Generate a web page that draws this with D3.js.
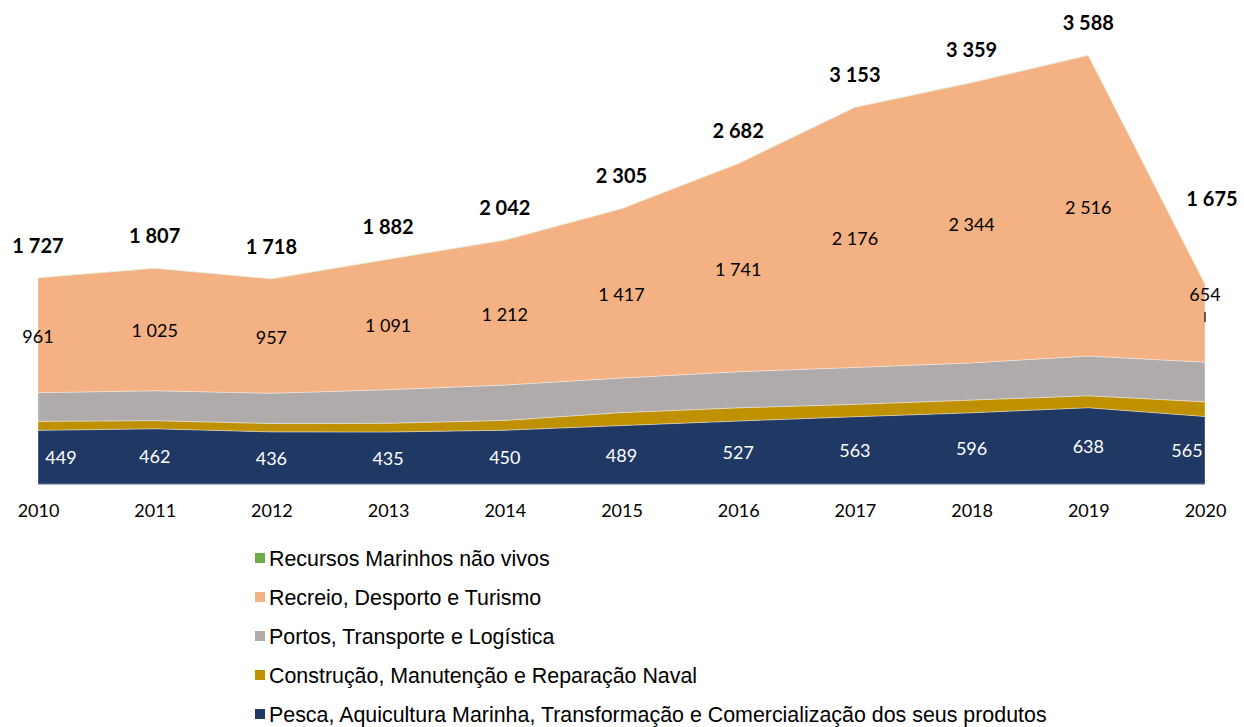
<!DOCTYPE html>
<html lang="pt">
<head>
<meta charset="UTF-8" />
<title>Economia do Mar</title>
<script src="https://cdn.jsdelivr.net/npm/d3@7"></script>
<style>
  body { margin: 0; background: #fff; }
</style>
</head>
<body>
<script>
// anos e séries
var years = ["2010","2011","2012","2013","2014","2015","2016","2017","2018","2019","2020"];
var pesca = [449, 462, 436, 435, 450, 489, 527, 563, 596, 638, 565];
var construcao = [75, 68, 70, 73, 82, 108, 110, 103, 106, 100, 122];
var portos = [240, 250, 253, 281, 296, 289, 302, 309, 311, 332, 332];
var recreio = [961, 1025, 957, 1091, 1212, 1417, 1741, 2176, 2344, 2516, 654];
var recursos = [2, 2, 2, 2, 2, 2, 2, 2, 2, 2, 2];

var seriesNames = [
  "Pesca, Aquicultura Marinha, Transformação e Comercialização dos seus produtos",
  "Construção, Manutenção e Reparação Naval",
  "Portos, Transporte e Logística",
  "Recreio, Desporto e Turismo",
  "Recursos Marinhos não vivos"
];
var colors = ["#203864", "#BF9000", "#AFABAB", "#F4B183", "#70AD47"];

var W = 1244, H = 727;
var numFont = "Lato, 'Open Sans', sans-serif";
var svg = d3.select("body").append("svg").attr("width", W).attr("height", H);

var rows = years.map(function (y, i) {
  return { year: y, s0: pesca[i], s1: construcao[i], s2: portos[i], s3: recreio[i], s4: recursos[i] };
});
var keys = ["s0", "s1", "s2", "s3", "s4"];
var stack = d3.stack().keys(keys)(rows);

var x = d3.scalePoint().domain(years).range([38, 1205]);
var y = d3.scaleLinear().domain([0, 4000]).range([484, 484 - 4000 * 0.11957]);

var area = d3.area()
  .x(function (d) { return x(d.data.year); })
  .y0(function (d) { return y(d[0]); })
  .y1(function (d) { return y(d[1]); });

svg.selectAll("path.layer")
  .data(stack)
  .enter()
  .append("path")
  .attr("class", "layer")
  .attr("d", area)
  .attr("fill", function (d, i) { return colors[i]; })
  .attr("stroke", "rgba(255,255,255,0.45)")
  .attr("stroke-width", 0.8);

// eixo
svg.append("line")
  .attr("x1", x(years[0])).attr("x2", x(years[years.length - 1]))
  .attr("y1", y(0) + 0.5).attr("y2", y(0) + 0.5)
  .attr("stroke", "#A3B0C6").attr("stroke-width", 1.2);

var xAxis = d3.axisBottom(x).tickSize(0).tickPadding(20);
var gx = svg.append("g").attr("transform", "translate(0," + y(0) + ")").call(xAxis);
gx.select(".domain").remove();
gx.selectAll("text").attr("font-size", 18).attr("fill", "#000")
  .attr("font-family", numFont);

var fmt = function (v) { return d3.format(",")(v).replace(/,/g, " "); };
var last = years.length - 1;

// rótulos da pesca
svg.selectAll("text.pesca")
  .data(stack[0])
  .enter()
  .append("text")
  .attr("class", "pesca")
  .attr("x", function (d, i) {
    var px = x(d.data.year);
    if (i === 0) return px + 23;
    if (i === last) return px - 18;
    return px;
  })
  .attr("y", function (d) { return (y(d[0]) + y(d[1])) / 2 + 7; })
  .attr("text-anchor", "middle")
  .attr("font-family", numFont)
  .attr("font-size", 18)
  .attr("fill", "#fff")
  .text(function (d) { return fmt(d[1] - d[0]); });

// rótulos do recreio
svg.selectAll("text.recreio")
  .data(stack[3])
  .enter()
  .append("text")
  .attr("class", "recreio")
  .attr("x", function (d) { return x(d.data.year); })
  .attr("y", function (d, i) {
    if (i === last) return y(d[1]) + 17;
    return (y(d[0]) + y(d[1])) / 2 + 8;
  })
  .attr("text-anchor", "middle")
  .attr("font-family", numFont)
  .attr("font-size", 18)
  .attr("fill", "#000")
  .text(function (d) { return fmt(d[1] - d[0]); });

// linha de chamada do último rótulo
var lastTop = stack[3][last];
svg.append("line")
  .attr("x1", x(years[last])).attr("x2", x(years[last]))
  .attr("y1", y(lastTop[1]) + 28).attr("y2", y(lastTop[1]) + 38)
  .attr("stroke", "#000").attr("stroke-width", 1.2);

// totais
var totals = rows.map(function (r) { return r.s0 + r.s1 + r.s2 + r.s3 + r.s4; });
svg.selectAll("text.total")
  .data(totals)
  .enter()
  .append("text")
  .attr("class", "total")
  .attr("x", function (d, i) { return x(years[i]) + (i === last ? 7 : 0); })
  .attr("y", function (d, i) {
    if (i === last) return y(d) - 78;
    return y(d) - 25;
  })
  .attr("text-anchor", "middle")
  .attr("font-family", numFont)
  .attr("font-size", 20)
  .attr("font-weight", "bold")
  .attr("fill", "#000")
  .text(function (d) { return fmt(d); });

// legenda
var legendOrder = [4, 3, 2, 1, 0];
var legend = svg.append("g").attr("class", "legend");
var items = legend.selectAll("g")
  .data(legendOrder)
  .enter()
  .append("g")
  .attr("transform", function (d, i) { return "translate(255," + (558 + i * 39) + ")"; });
items.append("rect")
  .attr("x", 0).attr("y", -5).attr("width", 10).attr("height", 10)
  .attr("fill", function (d) { return colors[d]; });
items.append("text")
  .attr("x", 14).attr("y", 7.5)
  .attr("font-family", "'Liberation Sans', Arial, sans-serif")
  .attr("font-size", 21.4)
  .attr("fill", "#000")
  .text(function (d) { return seriesNames[d]; });
</script>
</body>
</html>
